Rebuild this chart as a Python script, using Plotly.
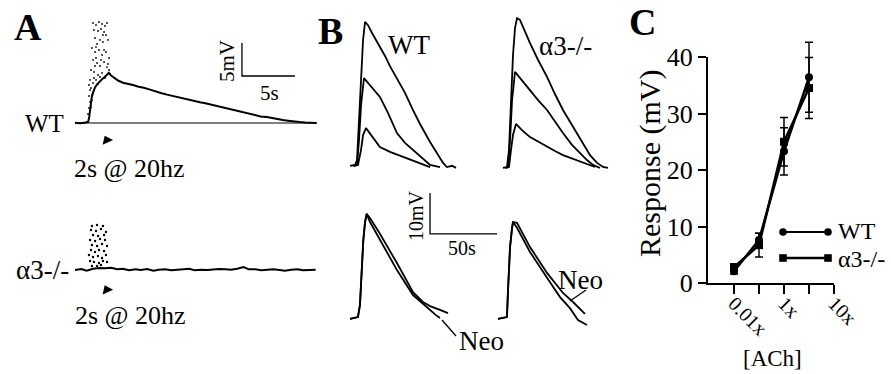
import plotly.graph_objects as go

W, H = 891, 374
SERIF = "Liberation Serif, Times New Roman, serif"

# ------------------------- DATA -------------------------
# Panel A, WT: membrane response to 2 s @ 20 Hz (time in s, mV)
a_wt_t = [0.0, 0.5, 1.0, 1.25, 1.35, 1.42, 1.5, 1.58, 1.7, 1.89, 2.1, 2.36, 2.6, 2.83, 3.0, 3.2,
          3.4, 3.77, 4.1, 4.53, 5.0, 5.47, 6.0, 6.5, 7.08, 7.6, 8.1, 8.68, 9.2, 9.7, 10.19, 10.7,
          11.2, 11.79, 12.3, 12.8, 13.4, 13.9, 14.4, 14.9, 15.4, 15.9, 16.5, 17.0, 17.5, 18.1,
          18.6, 19.1, 19.6, 20.1, 20.6, 21.2, 21.7, 22.2, 22.8]
a_wt_v = [0.05, -0.05, 0.08, 0.2, 1.0, 2.0, 3.0, 3.9, 4.6, 5.4, 5.9, 6.4, 6.7, 7.0, 7.3, 7.6,
          7.2, 6.8, 6.4, 6.1, 5.95, 5.75, 5.5, 5.35, 5.05, 4.85, 4.55, 4.3, 4.1, 3.85, 3.65, 3.55,
          3.35, 3.15, 3.0, 2.8, 2.6, 2.4, 2.2, 2.0, 1.75, 1.6, 1.35, 1.2, 1.0, 0.9,
          0.72, 0.55, 0.45, 0.35, 0.22, 0.15, 0.08, 0.05, 0.0]
# stimulus artefacts (WT)
a_wt_art_t = [1.70, 1.98, 2.26, 2.55, 2.83, 3.02, 1.79, 2.17, 2.45, 2.74, 2.92, 1.89, 2.36, 2.64, 2.08, 3.11,
              1.60, 1.89, 2.26, 2.55, 2.92, 3.21, 1.70, 2.08, 2.36, 2.74, 3.02, 1.51, 1.79, 2.17, 2.55, 2.83,
              3.21, 1.98, 1.42, 1.32, 1.42, 1.32, 1.42, 1.32, 1.23, 1.32, 1.51, 1.60, 1.70, 1.79, 1.98, 2.17,
              2.36, 1.51, 1.60, 2.64, 1.98, 2.74, 2.45, 1.89, 3.11]
a_wt_art_v = [15.15, 14.85, 15.3, 15.0, 14.7, 15.15, 14.09, 13.94, 14.24, 13.79, 13.33, 12.88, 12.58, 12.27, 11.97, 12.58,
              11.36, 10.76, 11.06, 10.30, 10.76, 9.85, 9.55, 9.09, 8.64, 9.24, 8.48, 8.03, 7.73, 7.27, 7.58, 6.82,
              8.03, 9.85, 6.52, 5.76, 5.0, 4.09, 3.18, 2.27, 1.36, 0.76, 5.30, 4.24, 6.06, 6.82, 6.52, 5.91,
              6.97, 2.42, 3.48, 13.33, 11.5, 11.06, 9.55, 8.64, 8.94]

# Panel A, alpha3-/-
a_ko_t = [0, 0.6, 1.1, 1.7, 2.3, 2.8, 3.4, 4.0, 4.5, 5.1, 5.7, 6.2, 6.8, 7.4, 7.9, 8.5, 9.1, 9.6,
          10.2, 10.8, 11.3, 11.9, 12.5, 13.0, 13.6, 14.2, 14.7, 15.3, 15.9, 16.4, 17.0, 17.6, 18.1,
          18.7, 19.3, 19.8, 20.4, 21.0, 21.5, 22.1, 22.7]
a_ko_v = [0.0, 0.15, -0.1, 0.2, 0.3, 0.25, 0.35, 0.1, 0.2, -0.05, 0.1, 0.0, 0.15, -0.1, 0.05, 0.1,
          -0.05, 0.0, 0.1, 0.2, -0.05, 0.05, 0.0, 0.1, 0.15, 0.1, 0.05, 0.2, 0.45, 0.1, 0.1, -0.05,
          0.05, 0.1, 0.0, -0.1, 0.05, 0.1, -0.05, 0.0, 0.05]
a_ko_art_t = [1.60, 2.08, 2.64, 1.51, 1.98, 2.45, 2.92, 1.70, 2.17, 2.74, 1.42, 1.89, 2.36, 2.83, 1.60, 2.08,
              2.55, 3.02, 1.51, 1.89, 2.26, 2.74, 1.32, 1.70, 2.17, 2.55, 2.92, 1.42, 1.79, 2.26, 2.64,
              3.02, 1.60, 2.08, 2.45]
a_ko_art_v = [6.67, 6.82, 6.67, 6.06, 5.91, 6.21, 5.76, 5.30, 5.15, 5.30, 4.55, 4.39, 4.70, 4.55, 3.79, 3.64,
              3.94, 3.64, 3.03, 2.73, 3.03, 2.88, 2.27, 1.97, 2.12, 1.82, 2.27, 1.36, 1.21, 1.06, 1.36,
              1.21, 0.61, 0.61, 0.76]
stim_onset_t = [3.0]
stim_mark_v = [-2.6, -3.0]
a_scale = {"t0": 15.75, "v0": 7.12, "dt": 5, "dv": 5}

# Panel B (top): responses to increasing ACh (time in s, mV)
b_wt_hi_t = [-2.2, 1.5, 3.0, 4.5, 6.0, 7.5, 9.0, 11.2, 14.2, 17.2, 20.1, 23.9, 27.6, 32.8, 38.8, 44.8,
             50.0, 57.5, 62.7, 67.2, 70.1, 73.9, 76.9]
b_wt_hi_v = [-0.24, 0, 1.2, 11.0, 22.0, 30.5, 34.9, 34.1, 32.2, 30.5, 29.0, 26.6, 24.1, 21.2, 17.6, 13.4,
             10.0, 5.6, 2.7, 0.5, -0.5, -0.2, -0.7]
b_wt_md_t = [0, 3.0, 4.5, 6.0, 8.2, 12.7, 20.1, 26.1, 32.8, 38.8, 47.8, 57.5, 64.9]
b_wt_md_v = [-0.24, 0, 6.1, 14.6, 21.2, 19.5, 16.6, 12.7, 7.8, 5.4, 2.9, 0, -0.5]
b_wt_lo_t = [0.7, 3.7, 6.0, 7.5, 9.7, 14.9, 20.1, 27.6, 37.3, 47.8, 57.5]
b_wt_lo_v = [-0.24, 0, 3.7, 7.3, 9.0, 6.8, 4.4, 3.2, 2.0, 0.7, -0.5]

b_ko_hi_t = [2.2, 5.2, 6.7, 8.2, 9.7, 11.2, 12.7, 14.9, 18.7, 22.4, 28.4, 35.1, 41.0, 47.0, 54.5, 61.9,
             67.2, 72.4, 76.9, 80.6]
b_ko_hi_v = [-0.24, 0, 4.1, 16.3, 27.3, 33.9, 36.3, 35.9, 32.9, 30.2, 26.1, 22.0, 17.8, 13.9, 9.8, 5.9,
             2.9, 1.0, 0, -0.24]
b_ko_md_t = [3.7, 6.0, 7.5, 9.0, 11.2, 14.9, 22.4, 28.4, 35.1, 41.0, 47.0, 53.7, 59.7, 64.9, 69.4, 74.6]
b_ko_md_v = [-0.24, 0, 6.6, 16.3, 23.2, 21.7, 18.8, 16.3, 13.9, 11.0, 8.3, 5.4, 3.4, 1.7, 0.5, -0.24]
b_ko_lo_t = [4.5, 6.7, 8.2, 9.7, 11.9, 16.4, 22.4, 29.9, 35.1, 41.0, 47.0, 54.5, 61.9, 70.9]
b_ko_lo_v = [-0.24, 0, 4.1, 7.8, 10.5, 9.0, 7.3, 5.9, 4.9, 3.9, 2.9, 2.0, 1.0, 0]

# Panel B (bottom): control vs neostigmine
rise_t_l = [-3.7, 0, 2.2, 3.7, 5.0, 6.2, 7.5, 8.7]
rise_v_l = [-0.24, 0, 0.24, 3.2, 11.0, 19.0, 23.4, 25.4]
b_wtc_t = [11.2, 18.7, 31.3, 43.3, 50.7, 56.0, 63.4, 69.4]
b_wtc_v = [24.4, 20.5, 13.4, 6.3, 3.9, 2.9, 2.0, 1.2]
b_wtn_t = [11.2, 18.7, 31.3, 43.3, 50.7, 56.0, 60.4, 63.4]
b_wtn_v = [23.4, 19.0, 11.7, 5.6, 3.4, 2.0, 0.7, 0.0]
rise_t_r = [-3.0, 0, 3.7, 4.5, 6.0, 7.5, 8.2]
rise_v_r = [-0.24, 0, 0.24, 6.8, 17.3, 22.0, 23.4]
b_kon_t = [11.2, 20.9, 33.6, 45.5, 53.0, 61.9]
b_kon_v = [23.2, 17.3, 11.0, 6.1, 3.9, 1.0]
b_koc_t = [11.2, 20.9, 33.6, 43.3, 50.7, 56.7, 63.4]
b_koc_v = [22.0, 16.1, 9.8, 5.1, 2.4, -0.5, -1.7]
b_scale = {"t0": 56.0, "v0": 20.5, "dt": 50, "dv": 10}

# Panel C: dose-response
conc_pos = [0, 1, 2, 3]
conc_ticks = ["0.01x", "", "1x", "", "10x"]
c_wt_mean = [2.1, 7.6, 23.3, 36.4]
c_wt_err = [0.5, 1.2, 4.2, 6.2]
c_ko_mean = [2.8, 6.7, 25.0, 34.5]
c_ko_err = [0.6, 2.1, 4.3, 5.4]

# ------------------------- LAYOUT HELPERS -------------------------
def dx(p0, p1):
    return [p0 / W, p1 / W]

def dy(top, bot):
    return [1 - bot / H, 1 - top / H]

def rx(p0, p1, origin, s):
    return [(p0 - origin) / s, (p1 - origin) / s]

def ry(top, bot, origin, s):
    return [(origin - bot) / s, (origin - top) / s]

def hidden_x(p0, p1, origin, s, anchor):
    return dict(domain=dx(p0, p1), range=rx(p0, p1, origin, s), visible=False, anchor=anchor,
                fixedrange=True)

def hidden_y(top, bot, origin, s, anchor):
    return dict(domain=dy(top, bot), range=ry(top, bot, origin, s), visible=False, anchor=anchor,
                fixedrange=True)

fig = go.Figure()
BLK = "black"

def ax(n, letter):
    return letter + ("" if n == 1 else str(n))

def line(x, y, n, w=2.0):
    fig.add_trace(go.Scatter(x=x, y=y, mode="lines", line=dict(color=BLK, width=w),
                             xaxis=ax(n, "x"), yaxis=ax(n, "y"), hoverinfo="skip", showlegend=False))

def dots(x, y, n, size=2.0):
    fig.add_trace(go.Scatter(x=x, y=y, mode="markers", marker=dict(color=BLK, size=size),
                             xaxis=ax(n, "x"), yaxis=ax(n, "y"), hoverinfo="skip", showlegend=False))

def scalebar(sc, n):
    line([sc["t0"], sc["t0"], sc["t0"] + sc["dt"]], [sc["v0"] + sc["dv"], sc["v0"], sc["v0"]], n, 1.3)

# Panel A WT (axis 1)
line([a_wt_t[0], a_wt_t[-1]], [0, 0], 1, 1.1)
line(a_wt_t, a_wt_v, 1, 2.0)
dots(a_wt_art_t, a_wt_art_v, 1, 1.8)
scalebar(a_scale, 1)
fig.add_trace(go.Scatter(x=stim_onset_t, y=[stim_mark_v[0]], mode="markers",
                         marker=dict(symbol="triangle-up", size=10, angle=-25, color=BLK),
                         xaxis="x", yaxis="y", hoverinfo="skip", showlegend=False))
# Panel A alpha3 (axis 2)
line(a_ko_t, a_ko_v, 2, 2.0)
dots(a_ko_art_t, a_ko_art_v, 2, 2.4)
fig.add_trace(go.Scatter(x=stim_onset_t, y=[stim_mark_v[1]], mode="markers",
                         marker=dict(symbol="triangle-up", size=10, angle=-25, color=BLK),
                         xaxis="x2", yaxis="y2", hoverinfo="skip", showlegend=False))
# Panel B top
for t, v in [(b_wt_hi_t, b_wt_hi_v), (b_wt_md_t, b_wt_md_v), (b_wt_lo_t, b_wt_lo_v)]:
    line(t, v, 3, 1.8)
for t, v in [(b_ko_hi_t, b_ko_hi_v), (b_ko_md_t, b_ko_md_v), (b_ko_lo_t, b_ko_lo_v)]:
    line(t, v, 4, 1.8)
# Panel B bottom
line(rise_t_l + b_wtc_t, rise_v_l + b_wtc_v, 5, 1.8)
line(rise_t_l + b_wtn_t, rise_v_l + b_wtn_v, 5, 1.8)
scalebar(b_scale, 5)
line(rise_t_r + b_kon_t, rise_v_r + b_kon_v, 6, 1.8)
line(rise_t_r + b_koc_t, rise_v_r + b_koc_v, 6, 1.8)

# Panel C
for mean, err, sym in [(c_wt_mean, c_wt_err, "circle"), (c_ko_mean, c_ko_err, "square")]:
    fig.add_trace(go.Scatter(x=conc_pos, y=mean, mode="lines+markers",
                             line=dict(color=BLK, width=2.5),
                             marker=dict(symbol=sym, size=8, color=BLK),
                             error_y=dict(type="data", array=err, color=BLK, thickness=1.5, width=4),
                             xaxis="x7", yaxis="y7", hoverinfo="skip", showlegend=False))
fig.add_trace(go.Scatter(x=[0], y=[0], mode="markers", marker=dict(opacity=0), xaxis="x7", yaxis="y8",
                         hoverinfo="skip", showlegend=False))

layout = dict(
    width=W, height=H, margin=dict(l=0, r=0, t=0, b=0),
    paper_bgcolor="white", plot_bgcolor="rgba(0,0,0,0)",
    font=dict(family=SERIF, color=BLK), showlegend=False,
    xaxis=hidden_x(55, 330, 75, 10.6, "y"),
    yaxis=hidden_y(10, 150, 123, 6.6, "x"),
    xaxis2=hidden_x(55, 330, 75, 10.6, "y2"),
    yaxis2=hidden_y(200, 300, 270, 6.6, "x2"),
    xaxis3=hidden_x(345, 470, 353, 1.34, "y3"),
    yaxis3=hidden_y(10, 175, 165, 4.1, "x3"),
    xaxis4=hidden_x(495, 615, 500, 1.34, "y4"),
    yaxis4=hidden_y(10, 175, 167, 4.1, "x4"),
    xaxis5=hidden_x(345, 500, 355, 1.34, "y5"),
    yaxis5=hidden_y(185, 335, 318, 4.1, "x5"),
    xaxis6=hidden_x(495, 615, 502, 1.34, "y6"),
    yaxis6=hidden_y(185, 335, 318, 4.1, "x6"),
    xaxis7=dict(domain=dx(708, 834), range=[-1.04, 4.0], anchor="y8", showline=True, linewidth=2,
                linecolor=BLK, ticks="outside", ticklen=9, tickwidth=2, tickcolor=BLK,
                tickvals=[0, 1, 2, 3, 4], ticktext=conc_ticks, tickangle=45, ticklabelstandoff=-10,
                tickfont=dict(family=SERIF, size=20), showgrid=False, zeroline=False,
                automargin=False, fixedrange=True),
    yaxis7=dict(domain=dy(25, 283), range=[0, (283 - 25) / 5.65], visible=False, anchor="x7",
                fixedrange=True),
    yaxis8=dict(domain=dy(57, 283), range=[0, 40], anchor="x7", showline=True, linewidth=2,
                linecolor=BLK, ticks="outside", ticklen=8, tickwidth=2, tickcolor=BLK,
                tickvals=[0, 10, 20, 30, 40], tickfont=dict(family=SERIF, size=26),
                showgrid=False, zeroline=False, automargin=False, fixedrange=True),
)

def ann(text, px, py, size, angle=0, xanchor="center"):
    return dict(text=text, x=px / W, y=1 - py / H, xref="paper", yref="paper", showarrow=False,
                xanchor=xanchor, yanchor="middle", textangle=angle,
                font=dict(family=SERIF, size=size, color=BLK))

annotations = [
    ann("<b>A</b>", 28, 27, 38),
    ann("<b>B</b>", 330, 31, 38),
    ann("<b>C</b>", 642, 22, 38),
    ann("WT", 44, 123, 25),
    ann("\u03b13-/-", 42, 270, 27),
    ann("2s @ 20hz", 129, 168, 26),
    ann("2s @ 20hz", 130, 315, 26),
    ann("5mV", 227, 61, 21, -90),
    ann("5s", 269, 93, 21),
    ann("WT", 409, 45, 27),
    ann("\u03b13-/-", 565, 46, 27),
    ann("10mV", 416, 216, 20, -90),
    ann("50s", 462, 248, 20),
    ann("Neo", 481, 341, 27),
    ann("Neo", 580, 280, 27),
    ann("Response (mV)", 650, 164, 30, -90),
    ann("[ACh]", 772, 358, 23),
    ann("WT", 836, 231, 24, xanchor="left"),
    ann("\u03b13-/-", 836, 259, 24, xanchor="left"),
]
layout["annotations"] = annotations

def seg(x0, y0, x1, y1, w=1.3):
    return dict(type="line", xref="paper", yref="paper", x0=x0 / W, y0=1 - y0 / H, x1=x1 / W,
                y1=1 - y1 / H, line=dict(color=BLK, width=w))

shapes = [
    seg(442, 320, 456, 336),
    seg(570, 301, 586, 290),
    seg(783, 232, 828, 232, 2),
    seg(783, 258, 828, 258, 2.5),
]
for cx in (783, 828):
    shapes.append(dict(type="circle", xref="paper", yref="paper", x0=(cx - 3.8) / W, x1=(cx + 3.8) / W,
                       y0=1 - (232 + 3.8) / H, y1=1 - (232 - 3.8) / H, fillcolor=BLK, line=dict(width=0)))
    shapes.append(dict(type="rect", xref="paper", yref="paper", x0=(cx - 3.8) / W, x1=(cx + 3.8) / W,
                       y0=1 - (258 + 3.8) / H, y1=1 - (258 - 3.8) / H, fillcolor=BLK, line=dict(width=0)))
layout["shapes"] = shapes

fig.update_layout(**layout)
fig.write_html("out.html", config={"displayModeBar": False},
               post_script="document.body.style.margin='0px';document.body.style.overflow='hidden';")
